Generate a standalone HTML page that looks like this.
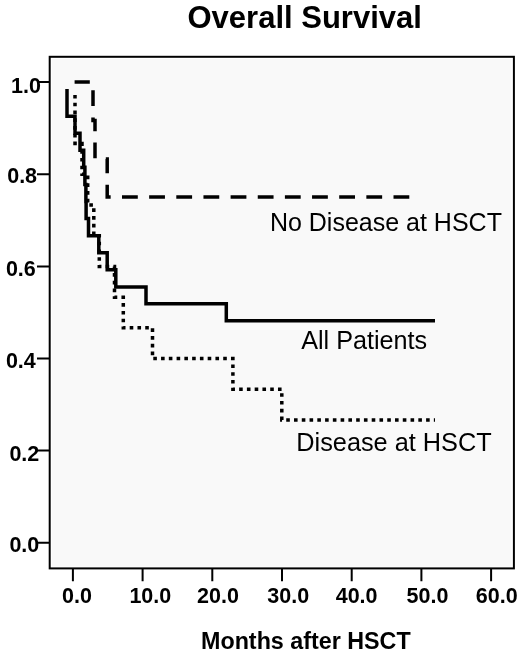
<!DOCTYPE html>
<html><head><meta charset="utf-8"><style>
html,body{margin:0;padding:0;background:#fff;}
body{width:520px;height:654px;overflow:hidden;}
svg{display:block;will-change:transform;}
text{font-family:"Liberation Sans",sans-serif;fill:#000;}
.b{font-weight:bold;}
</style></head><body>
<svg width="520" height="654" viewBox="0 0 520 654">
<rect x="0" y="0" width="520" height="654" fill="#fff"/>
<!-- plot area -->
<rect x="52" y="59" width="459.5" height="507.5" fill="#f9f9f9"/>
<!-- frame -->
<rect x="49.7" y="56.8" width="464.2" height="511.6" fill="none" stroke="#000" stroke-width="2"/>
<!-- y ticks -->
<g stroke="#000" stroke-width="2" fill="none">
<path d="M37 82.1H50M37 174.2H50M37 266.4H50M37 358.5H50M37 450.6H50M37 542.8H50"/>
<path d="M72.9 568V581.2M142.6 568V581.2M212.3 568V581.2M282 568V581.2M351.7 568V581.2M421.4 568V581.2M491.1 568V581.2"/>
</g>
<!-- title -->
<text class="b" x="187.5" y="28" font-size="31">Overall Survival</text>
<!-- y labels -->
<g class="b" font-size="21.5">
<text x="11" y="93">1.0</text>
<text x="7.2" y="183.2">0.8</text>
<text x="5.9" y="275.8">0.6</text>
<text x="5.9" y="367.7">0.4</text>
<text x="9.4" y="461.2">0.2</text>
<text x="9.4" y="552.3">0.0</text>
</g>
<!-- x labels -->
<g class="b" font-size="21.5">
<text x="62" y="603">0.0</text>
<text x="129.4" y="603">10.0</text>
<text x="197" y="603">20.0</text>
<text x="267.3" y="603">30.0</text>
<text x="335.7" y="603">40.0</text>
<text x="406.5" y="603">50.0</text>
<text x="475.8" y="603">60.0</text>
</g>
<text class="b" x="201" y="649" font-size="23.3">Months after HSCT</text>
<!-- curves -->
<g fill="none" stroke="#000" stroke-width="3.5" stroke-linejoin="miter" stroke-linecap="butt">
<path d="M67 89V116.2H75V133.3H80V150.3H83.7V167.3H84.9V184.4H85.9V201.4H86.1V218.6H88.5V235.7H98.8V252.7H107.2V269.8H115.8V286.9H146V303.8H226.3V320.7H435"/>
<path stroke-dasharray="3.6 4.17" d="M75 95V143.4H82V174.2H87.7V205H93.8V235.7H99.3V266.4H114.5V297.2H123.3V327.8H152.5V358.6H232.9V389.3H281.8V419.9H435"/>
<path stroke-dasharray="15.8 11.35" stroke-dashoffset="0.6" d="M74.6 82.1H93V120.5H95V158.9H107.2V197H409.6"/>
</g>
<!-- legend labels -->
<g font-size="25">
<text x="269.9" y="230.8">No Disease at HSCT</text>
<text x="301.2" y="348.8" font-size="25.2">All Patients</text>
<text x="296.3" y="450.8" font-size="25.3">Disease at HSCT</text>
</g>
</svg>
</body></html>
